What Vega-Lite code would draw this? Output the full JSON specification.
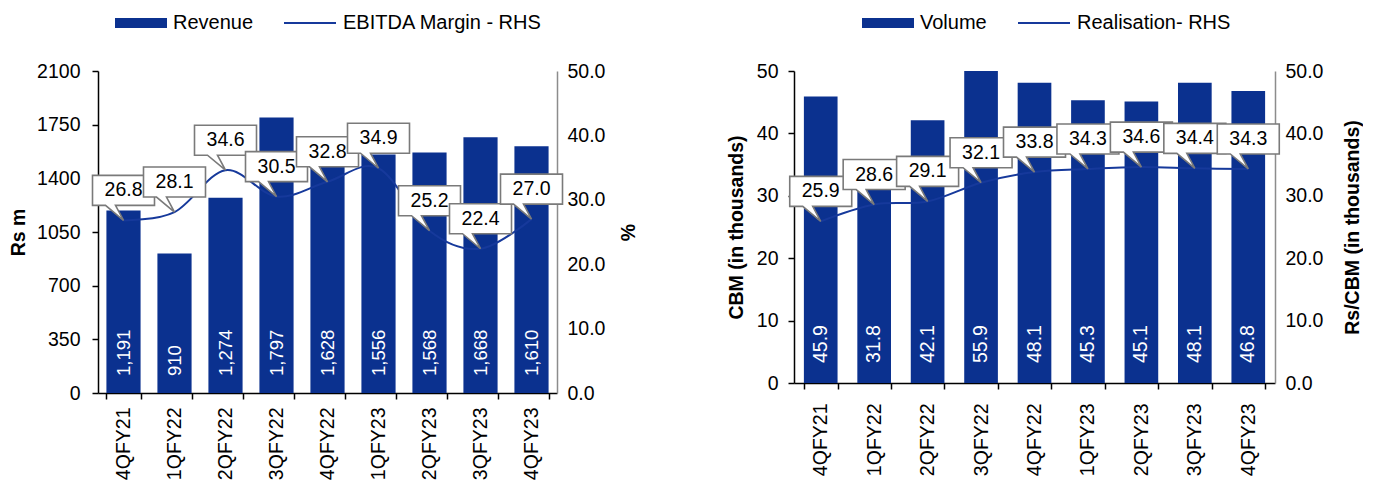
{
  "$schema": "https://vega.github.io/schema/vega-lite/v6.json",
  "background": "white",
  "padding": {"left": 8, "top": 13, "right": 0, "bottom": 0},
  "config": {
    "font": "Liberation Sans",
    "view": {"stroke": null},
    "axis": {
      "labelFont": "Liberation Sans",
      "labelFontSize": 19.5,
      "labelColor": "#000000",
      "titleFont": "Liberation Sans",
      "titleFontSize": 19.5,
      "titleFontWeight": "bold",
      "titleColor": "#000000",
      "grid": false,
      "domainColor": "#000000",
      "domainWidth": 1.5,
      "tickColor": "#000000",
      "tickWidth": 1.5
    },
    "legend": {
      "labelFont": "Liberation Sans",
      "labelFontSize": 20,
      "labelColor": "#000000",
      "labelLimit": 400,
      "padding": 0
    },
    "text": {"font": "Liberation Sans", "fontSize": 19.5},
    "style": {
      "calloutText": {"dy": -30, "baseline": "middle", "align": "center", "color": "#000000", "fontSize": 19.5}
    }
  },
  "spacing": 237,
  "bounds": "flush",
  "resolve": {
    "scale": {"fill": "independent", "stroke": "independent"},
    "legend": {"fill": "independent", "stroke": "independent"}
  },
  "hconcat": [
    {
      "width": 459,
      "height": 322,
      "data": {
        "values": [
          {"quarter": "4QFY21", "revenue": 1191, "margin": 26.8},
          {"quarter": "1QFY22", "revenue": 910, "margin": 28.1},
          {"quarter": "2QFY22", "revenue": 1274, "margin": 34.6},
          {"quarter": "3QFY22", "revenue": 1797, "margin": 30.5},
          {"quarter": "4QFY22", "revenue": 1628, "margin": 32.8},
          {"quarter": "1QFY23", "revenue": 1556, "margin": 34.9},
          {"quarter": "2QFY23", "revenue": 1568, "margin": 25.2},
          {"quarter": "3QFY23", "revenue": 1668, "margin": 22.4},
          {"quarter": "4QFY23", "revenue": 1610, "margin": 27.0}
        ]
      },
      "encoding": {
        "x": {
          "field": "quarter",
          "type": "ordinal",
          "sort": null,
          "scale": {"paddingInner": 0.33, "paddingOuter": 0.165},
          "axis": {
            "title": null,
            "labelAngle": 270,
            "labelAlign": "right",
            "labelBaseline": "middle",
            "tickBand": "extent",
            "tickSize": 6,
            "labelPadding": 8
          }
        }
      },
      "layer": [
        {
          "layer": [
            {
              "mark": {"type": "bar"},
              "encoding": {
                "y": {
                  "field": "revenue",
                  "type": "quantitative",
                  "scale": {"domain": [0, 2100], "nice": false},
                  "axis": {
                    "values": [0, 350, 700, 1050, 1400, 1750, 2100],
                    "format": "d",
                    "title": "Rs m",
                    "tickSize": 6,
                    "labelPadding": 12,
                    "titlePadding": 8
                  }
                },
                "fill": {
                  "datum": "Revenue",
                  "type": "nominal",
                  "scale": {"range": ["#0b318f"]},
                  "legend": {
                    "orient": "none",
                    "legendX": 17,
                    "legendY": -58,
                    "title": null,
                    "symbolType": "M-1,-0.19H1V0.19H-1Z",
                    "symbolSize": 2704,
                    "symbolStrokeWidth": 0,
                    "labelOffset": 6,
                    "clipHeight": 20
                  }
                }
              }
            },
            {
              "mark": {"type": "text", "angle": 270, "align": "left", "baseline": "middle", "dx": 17, "dy": 0, "color": "#ffffff", "fontSize": 18.5},
              "encoding": {
                "y": {"datum": 0, "type": "quantitative"},
                "text": {"field": "revenue", "type": "quantitative", "format": ","}
              }
            }
          ]
        },
        {
          "encoding": {
            "y": {
              "field": "margin",
              "type": "quantitative",
              "scale": {"domain": [0, 50], "nice": false},
              "axis": {
                "orient": "right",
                "values": [0, 10, 20, 30, 40, 50],
                "format": ".1f",
                "title": "%",
                "titleAngle": 270,
                "titleBaseline": "top",
                "ticks": false,
                "domainColor": "#8c8c8c",
                "labelPadding": 10,
                "titlePadding": 15
              }
            }
          },
          "layer": [
            {
              "mark": {"type": "line", "interpolate": "cardinal", "strokeWidth": 2},
              "encoding": {
                "stroke": {
                  "datum": "EBITDA Margin - RHS",
                  "type": "nominal",
                  "scale": {"range": ["#16399b"]},
                  "legend": {
                    "orient": "none",
                    "legendX": 185,
                    "legendY": -58,
                    "title": null,
                    "symbolType": "stroke",
                    "symbolSize": 2704,
                    "symbolStrokeWidth": 2,
                    "labelOffset": 6,
                    "clipHeight": 20
                  }
                }
              }
            },
            {"transform": [{"filter": {"field": "quarter", "equal": "4QFY21"}}], "layer": [{"mark": {"type": "point", "shape": "M-31,-45H31V-15H-8L0,0L-18,-15H-31Z", "size": 4, "filled": true, "fill": "#ffffff", "stroke": "#7a7a7a", "strokeWidth": 1.6, "opacity": 1}}, {"mark": {"type": "text", "style": "calloutText"}, "encoding": {"text": {"field": "margin", "type": "quantitative", "format": ".1f"}}}]},
            {"transform": [{"filter": {"field": "quarter", "equal": "1QFY22"}}], "layer": [{"mark": {"type": "point", "shape": "M-31,-45H31V-15H-8L0,0L-18,-15H-31Z", "size": 4, "filled": true, "fill": "#ffffff", "stroke": "#7a7a7a", "strokeWidth": 1.6, "opacity": 1}}, {"mark": {"type": "text", "style": "calloutText"}, "encoding": {"text": {"field": "margin", "type": "quantitative", "format": ".1f"}}}]},
            {"transform": [{"filter": {"field": "quarter", "equal": "2QFY22"}}], "layer": [{"mark": {"type": "point", "shape": "M-31,-45H31V-15H-8L0,0L-18,-15H-31Z", "size": 4, "filled": true, "fill": "#ffffff", "stroke": "#7a7a7a", "strokeWidth": 1.6, "opacity": 1}}, {"mark": {"type": "text", "style": "calloutText"}, "encoding": {"text": {"field": "margin", "type": "quantitative", "format": ".1f"}}}]},
            {"transform": [{"filter": {"field": "quarter", "equal": "3QFY22"}}], "layer": [{"mark": {"type": "point", "shape": "M-31,-45H31V-15H-8L0,0L-18,-15H-31Z", "size": 4, "filled": true, "fill": "#ffffff", "stroke": "#7a7a7a", "strokeWidth": 1.6, "opacity": 1}}, {"mark": {"type": "text", "style": "calloutText"}, "encoding": {"text": {"field": "margin", "type": "quantitative", "format": ".1f"}}}]},
            {"transform": [{"filter": {"field": "quarter", "equal": "4QFY22"}}], "layer": [{"mark": {"type": "point", "shape": "M-31,-45H31V-15H-8L0,0L-18,-15H-31Z", "size": 4, "filled": true, "fill": "#ffffff", "stroke": "#7a7a7a", "strokeWidth": 1.6, "opacity": 1}}, {"mark": {"type": "text", "style": "calloutText"}, "encoding": {"text": {"field": "margin", "type": "quantitative", "format": ".1f"}}}]},
            {"transform": [{"filter": {"field": "quarter", "equal": "1QFY23"}}], "layer": [{"mark": {"type": "point", "shape": "M-31,-45H31V-15H-8L0,0L-18,-15H-31Z", "size": 4, "filled": true, "fill": "#ffffff", "stroke": "#7a7a7a", "strokeWidth": 1.6, "opacity": 1}}, {"mark": {"type": "text", "style": "calloutText"}, "encoding": {"text": {"field": "margin", "type": "quantitative", "format": ".1f"}}}]},
            {"transform": [{"filter": {"field": "quarter", "equal": "2QFY23"}}], "layer": [{"mark": {"type": "point", "shape": "M-31,-45H31V-15H-8L0,0L-18,-15H-31Z", "size": 4, "filled": true, "fill": "#ffffff", "stroke": "#7a7a7a", "strokeWidth": 1.6, "opacity": 1}}, {"mark": {"type": "text", "style": "calloutText"}, "encoding": {"text": {"field": "margin", "type": "quantitative", "format": ".1f"}}}]},
            {"transform": [{"filter": {"field": "quarter", "equal": "3QFY23"}}], "layer": [{"mark": {"type": "point", "shape": "M-31,-45H31V-15H-8L0,0L-18,-15H-31Z", "size": 4, "filled": true, "fill": "#ffffff", "stroke": "#7a7a7a", "strokeWidth": 1.6, "opacity": 1}}, {"mark": {"type": "text", "style": "calloutText"}, "encoding": {"text": {"field": "margin", "type": "quantitative", "format": ".1f"}}}]},
            {"transform": [{"filter": {"field": "quarter", "equal": "4QFY23"}}], "layer": [{"mark": {"type": "point", "shape": "M-31,-45H31V-15H-8L0,0L-18,-15H-31Z", "size": 4, "filled": true, "fill": "#ffffff", "stroke": "#7a7a7a", "strokeWidth": 1.6, "opacity": 1}}, {"mark": {"type": "text", "style": "calloutText"}, "encoding": {"text": {"field": "margin", "type": "quantitative", "format": ".1f"}}}]}
          ]
        }
      ],
      "resolve": {"scale": {"y": "independent"}}
    },
    {
      "width": 481,
      "height": 312,
      "data": {
        "values": [
          {"quarter": "4QFY21", "volume": 45.9, "realisation": 25.9},
          {"quarter": "1QFY22", "volume": 31.8, "realisation": 28.6},
          {"quarter": "2QFY22", "volume": 42.1, "realisation": 29.1},
          {"quarter": "3QFY22", "volume": 55.9, "realisation": 32.1},
          {"quarter": "4QFY22", "volume": 48.1, "realisation": 33.8},
          {"quarter": "1QFY23", "volume": 45.3, "realisation": 34.3},
          {"quarter": "2QFY23", "volume": 45.1, "realisation": 34.6},
          {"quarter": "3QFY23", "volume": 48.1, "realisation": 34.4},
          {"quarter": "4QFY23", "volume": 46.8, "realisation": 34.3}
        ]
      },
      "encoding": {
        "x": {
          "field": "quarter",
          "type": "ordinal",
          "sort": null,
          "scale": {"paddingInner": 0.37, "paddingOuter": 0.185},
          "axis": {
            "title": null,
            "labelAngle": 270,
            "labelAlign": "right",
            "labelBaseline": "middle",
            "tickBand": "extent",
            "tickSize": 6,
            "labelPadding": 14
          }
        }
      },
      "layer": [
        {
          "layer": [
            {
              "mark": {"type": "bar", "clip": true},
              "encoding": {
                "y": {
                  "field": "volume",
                  "type": "quantitative",
                  "scale": {"domain": [0, 50], "nice": false},
                  "axis": {
                    "values": [0, 10, 20, 30, 40, 50],
                    "title": "CBM (in thousands)",
                    "tickSize": 6,
                    "labelPadding": 10,
                    "titlePadding": 10
                  }
                },
                "fill": {
                  "datum": "Volume",
                  "type": "nominal",
                  "scale": {"range": ["#0b318f"]},
                  "legend": {
                    "orient": "none",
                    "legendX": 68,
                    "legendY": -58,
                    "title": null,
                    "symbolType": "M-1,-0.19H1V0.19H-1Z",
                    "symbolSize": 2704,
                    "symbolStrokeWidth": 0,
                    "labelOffset": 6,
                    "clipHeight": 20
                  }
                }
              }
            },
            {
              "mark": {"type": "text", "angle": 270, "align": "left", "baseline": "middle", "dx": 20, "dy": 0, "color": "#ffffff", "fontSize": 19.5},
              "encoding": {
                "y": {"datum": 0, "type": "quantitative"},
                "text": {"field": "volume", "type": "quantitative", "format": ".1f"}
              }
            }
          ]
        },
        {
          "encoding": {
            "y": {
              "field": "realisation",
              "type": "quantitative",
              "scale": {"domain": [0, 50], "nice": false},
              "axis": {
                "orient": "right",
                "values": [0, 10, 20, 30, 40, 50],
                "format": ".1f",
                "title": "Rs/CBM (in thousands)",
                "titleAngle": 270,
                "titleBaseline": "top",
                "ticks": false,
                "domainColor": "#8c8c8c",
                "labelPadding": 10,
                "titlePadding": 21
              }
            }
          },
          "layer": [
            {
              "mark": {"type": "line", "interpolate": "cardinal", "strokeWidth": 2},
              "encoding": {
                "stroke": {
                  "datum": "Realisation- RHS",
                  "type": "nominal",
                  "scale": {"range": ["#16399b"]},
                  "legend": {
                    "orient": "none",
                    "legendX": 223,
                    "legendY": -58,
                    "title": null,
                    "symbolType": "stroke",
                    "symbolSize": 2704,
                    "symbolStrokeWidth": 2,
                    "labelOffset": 6,
                    "clipHeight": 20
                  }
                }
              }
            },
            {"transform": [{"filter": {"field": "quarter", "equal": "4QFY21"}}], "layer": [{"mark": {"type": "point", "shape": "M-31,-45H31V-15H-8L0,0L-18,-15H-31Z", "size": 4, "filled": true, "fill": "#ffffff", "stroke": "#7a7a7a", "strokeWidth": 1.6, "opacity": 1}}, {"mark": {"type": "text", "style": "calloutText"}, "encoding": {"text": {"field": "realisation", "type": "quantitative", "format": ".1f"}}}]},
            {"transform": [{"filter": {"field": "quarter", "equal": "1QFY22"}}], "layer": [{"mark": {"type": "point", "shape": "M-31,-45H31V-15H-8L0,0L-18,-15H-31Z", "size": 4, "filled": true, "fill": "#ffffff", "stroke": "#7a7a7a", "strokeWidth": 1.6, "opacity": 1}}, {"mark": {"type": "text", "style": "calloutText"}, "encoding": {"text": {"field": "realisation", "type": "quantitative", "format": ".1f"}}}]},
            {"transform": [{"filter": {"field": "quarter", "equal": "2QFY22"}}], "layer": [{"mark": {"type": "point", "shape": "M-31,-45H31V-15H-8L0,0L-18,-15H-31Z", "size": 4, "filled": true, "fill": "#ffffff", "stroke": "#7a7a7a", "strokeWidth": 1.6, "opacity": 1}}, {"mark": {"type": "text", "style": "calloutText"}, "encoding": {"text": {"field": "realisation", "type": "quantitative", "format": ".1f"}}}]},
            {"transform": [{"filter": {"field": "quarter", "equal": "3QFY22"}}], "layer": [{"mark": {"type": "point", "shape": "M-31,-45H31V-15H-8L0,0L-18,-15H-31Z", "size": 4, "filled": true, "fill": "#ffffff", "stroke": "#7a7a7a", "strokeWidth": 1.6, "opacity": 1}}, {"mark": {"type": "text", "style": "calloutText"}, "encoding": {"text": {"field": "realisation", "type": "quantitative", "format": ".1f"}}}]},
            {"transform": [{"filter": {"field": "quarter", "equal": "4QFY22"}}], "layer": [{"mark": {"type": "point", "shape": "M-31,-45H31V-15H-8L0,0L-18,-15H-31Z", "size": 4, "filled": true, "fill": "#ffffff", "stroke": "#7a7a7a", "strokeWidth": 1.6, "opacity": 1}}, {"mark": {"type": "text", "style": "calloutText"}, "encoding": {"text": {"field": "realisation", "type": "quantitative", "format": ".1f"}}}]},
            {"transform": [{"filter": {"field": "quarter", "equal": "1QFY23"}}], "layer": [{"mark": {"type": "point", "shape": "M-31,-45H31V-15H-8L0,0L-18,-15H-31Z", "size": 4, "filled": true, "fill": "#ffffff", "stroke": "#7a7a7a", "strokeWidth": 1.6, "opacity": 1}}, {"mark": {"type": "text", "style": "calloutText"}, "encoding": {"text": {"field": "realisation", "type": "quantitative", "format": ".1f"}}}]},
            {"transform": [{"filter": {"field": "quarter", "equal": "2QFY23"}}], "layer": [{"mark": {"type": "point", "shape": "M-31,-45H31V-15H-8L0,0L-18,-15H-31Z", "size": 4, "filled": true, "fill": "#ffffff", "stroke": "#7a7a7a", "strokeWidth": 1.6, "opacity": 1}}, {"mark": {"type": "text", "style": "calloutText"}, "encoding": {"text": {"field": "realisation", "type": "quantitative", "format": ".1f"}}}]},
            {"transform": [{"filter": {"field": "quarter", "equal": "3QFY23"}}], "layer": [{"mark": {"type": "point", "shape": "M-31,-45H31V-15H-8L0,0L-18,-15H-31Z", "size": 4, "filled": true, "fill": "#ffffff", "stroke": "#7a7a7a", "strokeWidth": 1.6, "opacity": 1}}, {"mark": {"type": "text", "style": "calloutText"}, "encoding": {"text": {"field": "realisation", "type": "quantitative", "format": ".1f"}}}]},
            {"transform": [{"filter": {"field": "quarter", "equal": "4QFY23"}}], "layer": [{"mark": {"type": "point", "shape": "M-31,-45H31V-15H-8L0,0L-18,-15H-31Z", "size": 4, "filled": true, "fill": "#ffffff", "stroke": "#7a7a7a", "strokeWidth": 1.6, "opacity": 1}}, {"mark": {"type": "text", "style": "calloutText"}, "encoding": {"text": {"field": "realisation", "type": "quantitative", "format": ".1f"}}}]}
          ]
        }
      ],
      "resolve": {"scale": {"y": "independent"}}
    }
  ]
}
